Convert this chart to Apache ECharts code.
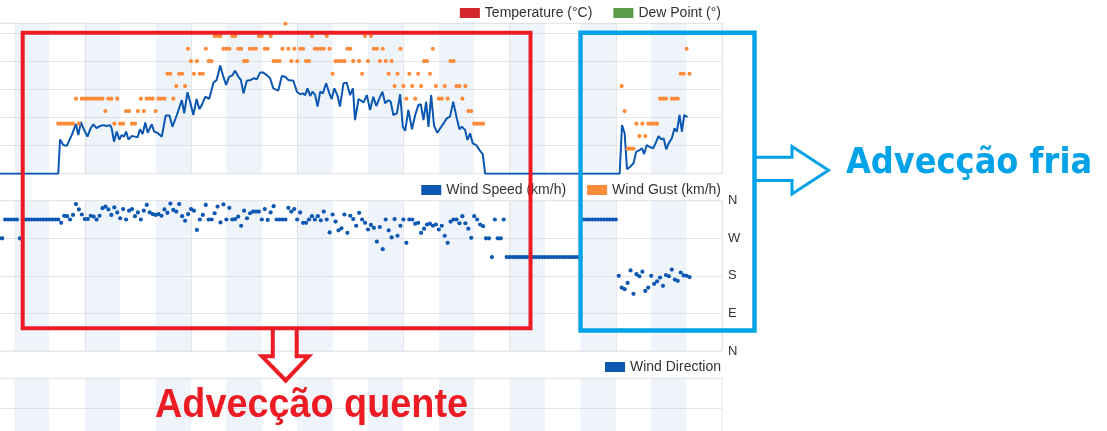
<!DOCTYPE html>
<html><head><meta charset="utf-8">
<script src="https://cdn.jsdelivr.net/npm/echarts@6/dist/echarts.min.js"></script>
<style>html,body{margin:0;padding:0;background:#fff}#c{width:1107px;height:431px}</style>
</head><body><div id="c"></div>
<script>
// ---- data (x = hours since start of record) ----
const nightBands = [[12,24],[36,48],[60,72],[84,96],[108,120],[132,144],[156,168],[180,192],[204,216],[228,240]];

const speedHours = [0,27,
27.6,28.7,29.9,31.6,33.0,33.8,34.7,35.5,36.9,38.0,38.9,40.0,41.2,42.3,43.4,44.6,45.1,45.9,46.8,47.7,
48.5,49.3,50.0,50.8,51.9,53.0,53.9,54.7,55.6,56.5,57.3,58.7,59.5,60.6,62.1,63.4,64.7,65.7,67.2,68.9,
69.7,70.8,71.7,72.8,73.9,74.8,75.7,76.8,78.2,79.6,80.7,81.9,82.8,83.9,84.9,86.0,86.9,88.1,88.9,89.8,
90.9,92.3,93.4,94.3,95.4,96.5,97.7,98.8,99.9,101.6,102.8,103.9,105.0,106.7,107.9,109.0,109.9,110.7,111.5,112.4,
113.2,114.1,114.9,115.8,116.7,117.8,118.9,119.7,120.6,121.6,122.5,123.7,124.8,125.9,126.9,127.6,128.8,130.5,131.6,132.7,
133.8,134.8,135.9,136.9,137.8,138.9,139.7,140.6,141.8,142.9,143.8,144.6,145.7,146.9,148.0,149.1,149.9,150.8,151.7,152.5,
153.4,154.4,155.5,156.5,157.6,158.7,159.8,160.9,162.1,163.0,163.8,164.9,165.7,166.6,167.5,168.7,169.8,170.9,171.7,
217.3,218.1,219.0,219.8,220.9,222.0,222.9,224.0,224.9,225.6,226.5,227.4,228.6,229.4,230.5,231.4,232.2,233.1,233.9,235.0,
235.9,236.7,237.6,238.4,239.2,240.3];
const speedValues = [0,0,
12.2,10.2,9.9,13.8,17.7,13.8,18.4,16.2,13.2,16.2,17.6,16.2,17.0,17.3,17.0,17.3,16.2,11.4,15.0,12.2,
13.8,13.2,15.0,12.2,13.4,13.2,13.0,15.8,14.1,18.2,14.6,17.6,15.0,14.6,13.2,20.7,20.7,16.7,20.9,26.2,
21.5,29.0,25.6,20.9,26.6,23.0,24.5,27.4,26.7,32.4,33.4,38.5,35.1,31.6,34.5,35.0,36.7,34.5,33.4,28.6,
33.1,33.4,34.0,33.6,36.0,36.0,35.1,34.0,30.4,29.6,34.8,34.5,33.4,33.1,29.2,28.3,28.6,28.0,30.4,27.7,
29.2,28.0,23.9,29.2,28.6,32.2,28.6,26.6,30.4,28.0,23.9,32.2,32.4,28.0,30.4,19.1,26.6,25.4,28.0,22.7,
27.4,24.1,26.9,29.2,25.1,26.2,25.6,20.9,21.5,28.3,16.7,15.3,22.7,15.8,20.9,24.5,24.7,19.1,25.6,16.7,
28.0,17.0,14.6,16.2,17.9,19.7,20.3,25.6,19.7,15.8,16.7,15.6,12.0,14.4,10.8,10.2,8.4,7.0,0,
0,17.3,14.4,1.6,2.5,3.7,7.8,8.4,9.0,7.0,10.2,9.6,9.0,10.6,13.4,12.2,12.6,8.7,10.8,12.6,
16.2,15.0,20.9,15.0,20.9,20.1];

const gustStartA = 27;   // hourly gusts, hours 27..171
const gustA = [17.8,17.8,17.8,17.8,17.8,17.8,26.7,17.8,26.7,26.7,26.7,26.7,26.7,26.7,26.7,26.7,
22.3,26.7,26.7,17.8,26.7,17.8,17.8,22.3,22.3,17.8,17.8,22.3,26.7,22.3,26.7,26.7,26.7,22.3,26.7,26.7,26.7,
35.6,35.6,26.7,31.2,35.6,35.6,31.2,44.5,40.1,35.6,40.1,35.6,35.6,44.5,40.1,40.1,49.0,49.0,49.0,
44.5,44.5,44.5,49.0,49.0,44.5,44.5,40.1,40.1,44.5,44.5,44.5,49.0,49.0,44.5,44.5,49.0,40.1,40.1,40.1,
44.5,53.4,44.5,40.1,44.5,40.1,44.5,44.5,40.1,40.1,49.0,44.5,44.5,44.5,44.5,49.0,44.5,35.6,40.1,40.1,
40.1,40.1,44.5,44.5,40.1,null,40.1,35.6,49.0,40.1,49.0,44.5,44.5,40.1,44.5,40.1,35.6,40.1,31.2,35.6,
44.5,31.2,26.7,35.6,31.2,26.7,35.6,31.2,40.1,40.1,35.6,44.5,31.2,26.7,26.7,31.2,26.7,40.1,40.1,31.2,
31.2,26.7,31.2,22.3,22.3,17.8,17.8,17.8,17.8];
const gustStartB = 218;  // hours 218..241
const gustB = [31.2,22.3,8.9,8.9,8.9,17.8,13.4,17.8,13.4,17.8,17.8,17.8,17.8,26.7,26.7,26.7,null,
26.7,26.7,26.7,35.6,35.6,44.5,35.6];

const dirStartA = 7;     // hours 7..27
const dirA = [270,270,315,315,315,315,315,270,315,315,315,315,315,315,315,315,315,315,315,315,315];
const dirStartB = 28;    // hours 28..178
const dirB = [307,324,323,315,326,352,339,327,316,316,324,322,315,324,342,346,339,326,344,332,
318,340,315,336,340,323,332,315,336,350,332,328,326,328,324,339,331,353,338,334,
352,323,312,328,340,336,290,315,326,350,315,315,330,346,308,351,315,343,315,316,
322,300,336,318,330,334,334,334,315,340,314,332,347,315,315,315,315,343,334,340,
315,332,307,307,315,323,315,323,313,334,315,284,327,310,289,294,327,283,324,316,
300,331,315,307,291,302,295,262,297,244,315,289,272,316,276,300,315,259,315,315,
305,307,283,293,303,305,300,303,291,300,276,259,310,315,315,306,323,306,293,271,
323,315,303,299,270,270,225,315,270,270,315];
const dirStartC = 179;   // hours 179..216
const dirC = [225,225,225,225,225,225,225,225,225,225,225,225,225,225,225,225,225,225,225,225,225,225,225,225,225,225,
315,315,315,315,315,315,315,315,315,315,315,315];
const dirStartD = 217;   // hours 217..241
const dirD = [180,152,148,163,193,137,184,179,190,144,152,180,161,167,176,156,182,179,195,171,168,188,181,180,177];

const dirTickLabels = ['N','E','S','W','N'];
const legendTop = ['Temperature (°C)','Dew Point (°)'];
const legendMid = ['Wind Speed (km/h)','Wind Gust (km/h)'];
const legendBot = ['Wind Direction'];

// ---- build ----
const pairsFrom = (start, arr) => arr.map((v,i)=>[start+i, v]).filter(p=>p[1]!==null);
const speedData = speedHours.map((h,i)=>[h, speedValues[i]]);
const gustData = pairsFrom(gustStartA, gustA).concat(pairsFrom(gustStartB, gustB));
const dirData = pairsFrom(dirStartA, dirA).concat(pairsFrom(dirStartB, dirB), pairsFrom(dirStartC, dirC), pairsFrom(dirStartD, dirD));

const GRID = '#e6e6e6';
const FONT = '"Liberation Sans", Arial, sans-serif';
const grids = [
  {left:-21.4, right:385, top:23.3, height:150.4},
  {left:-21.4, right:385, top:200.7, height:150.3},
  {left:-21.4, right:385, top:378.3, height:150}
].map(g=>Object.assign(g,{show:true, borderColor:GRID, borderWidth:1, backgroundColor:'transparent',
  outerBoundsMode:'none', containLabel:false}));

const xAxes = [0,1,2].map(i=>({type:'value', gridIndex:i, min:0, max:252, interval:36,
  axisLine:{show:false}, axisTick:{show:false}, axisLabel:{show:false},
  splitLine:{show:i<2, lineStyle:{color:GRID, width:1}}}));
const yAxes = [
  {type:'value', gridIndex:0, min:0, max:53.56, interval:10, axisLine:{show:false}, axisTick:{show:false},
   axisLabel:{show:false}, splitLine:{lineStyle:{color:GRID}}},
  {type:'value', gridIndex:1, min:0, max:360, interval:90, position:'right', axisLine:{show:false}, axisTick:{show:false},
   axisLabel:{formatter:v=>dirTickLabels[Math.round(v/90)], fontSize:13, color:'#333', fontFamily:FONT, margin:6},
   splitLine:{lineStyle:{color:GRID}}},
  {type:'value', gridIndex:2, min:0, max:5, interval:1, axisLine:{show:false}, axisTick:{show:false},
   axisLabel:{show:false}, splitLine:{lineStyle:{color:GRID}}}
];

const bandSeries = [0,1,2].map(i=>({type:'line', xAxisIndex:i, yAxisIndex:i, data:[], silent:true, z:1,
  markArea:{silent:true, itemStyle:{color:'rgba(175,200,228,0.2)'},
    data: nightBands.map(b=>[{xAxis:b[0]},{xAxis:b[1]}])}}));

const legendBase = {right:386, icon:'rect', itemWidth:20, itemHeight:10, itemGap:21, padding:0,
  selectedMode:false, textStyle:{fontSize:14, color:'#333', fontFamily:FONT}};

const option = {
  animation:false,
  grid: grids, xAxis: xAxes, yAxis: yAxes,
  legend:[
    Object.assign({data:legendTop, top:6}, legendBase),
    Object.assign({data:legendMid, top:183}, legendBase),
    Object.assign({data:legendBot, top:360}, legendBase)
  ],
  series: bandSeries.concat([
    {name:'Wind Speed (km/h)', type:'line', xAxisIndex:0, yAxisIndex:0, data:speedData, showSymbol:false,
     lineStyle:{width:2, color:'#0b57b2'}, itemStyle:{color:'#0b57b2'}, z:3},
    {name:'Wind Gust (km/h)', type:'scatter', xAxisIndex:0, yAxisIndex:0, data:gustData, symbolSize:4.2,
     itemStyle:{color:'#fd8b3a', opacity:1}, z:4},
    {name:'Wind Direction', type:'scatter', xAxisIndex:1, yAxisIndex:1, data:dirData, symbolSize:4.2,
     itemStyle:{color:'#0b57b2', opacity:1}, z:3},
    {name:'Temperature (°C)', type:'line', xAxisIndex:2, yAxisIndex:2, data:[], itemStyle:{color:'#d3262d'}},
    {name:'Dew Point (°)', type:'line', xAxisIndex:2, yAxisIndex:2, data:[], itemStyle:{color:'#5b9d48'}}
  ]),
  graphic:[
    {type:'rect', z:100, shape:{x:22.7, y:32.7, width:507.8, height:295.6},
     style:{fill:'none', stroke:'#ED1C24', lineWidth:4}},
    {type:'polyline', z:100, shape:{points:[[272.8,330],[272.8,356.3],[262,356.3],[285.7,380.5],[308.7,356.3],[296.7,356.3],[296.7,330]]},
     style:{fill:'none', stroke:'#ED1C24', lineWidth:4}},
    {type:'text', z:100, x:155, y:406, scaleX:0.945,
     style:{text:'Advecção quente', font:'bold 40px "Liberation Sans", Arial, sans-serif', fill:'#ED1C24', verticalAlign:'middle', align:'left'}},
    {type:'rect', z:100, shape:{x:580.5, y:32.7, width:174, height:297.8},
     style:{fill:'none', stroke:'#00A2E8', lineWidth:4.4}},
    {type:'polyline', z:100, shape:{points:[[756,157.2],[792,157.2],[792,146.5],[828.5,170.3],[792,194],[792,180.5],[756,180.5]]},
     style:{fill:'none', stroke:'#00A2E8', lineWidth:3}},
    {type:'text', z:100, x:846, y:164, scaleX:0.9,
     style:{text:'Advecção fria', font:'bold 35.7px "DejaVu Sans", sans-serif', fill:'#00A2E8', verticalAlign:'middle', align:'left'}}
  ]
};
const chart = echarts.init(document.getElementById('c'), null, {renderer:'canvas'});
chart.setOption(option);
</script></body></html>
